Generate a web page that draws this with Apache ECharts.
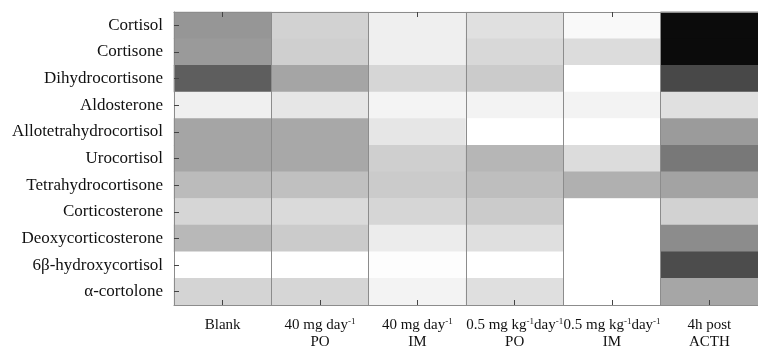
<!DOCTYPE html>
<html>
<head>
<meta charset="utf-8">
<script src="https://cdn.jsdelivr.net/npm/echarts@6/dist/echarts.min.js"></script>
<style>html,body{margin:0;padding:0;background:#fff;}#c{width:758px;height:351px;}</style>
</head>
<body>
<div id="c"></div>
<script>
// Categories
var treatments = ['Blank', '40 mg day^-1\nPO', '40 mg day^-1\nIM', '0.5 mg kg^-1day^-1\nPO', '0.5 mg kg^-1day^-1\nIM', '4h post\nACTH'];
var steroids = ['Cortisol', 'Cortisone', 'Dihydrocortisone', 'Aldosterone', 'Allotetrahydrocortisol', 'Urocortisol', 'Tetrahydrocortisone', 'Corticosterone', 'Deoxycorticosterone', '6β-hydroxycortisol', 'α-cortolone'];

// Grey level of each cell (0 = white, 255 = black), one array per treatment, rows in steroid order
var blank    = [105, 101, 161, 15, 90, 90, 68, 41, 71, 0, 43];
var po40     = [45, 48, 90, 25, 87, 87, 63, 37, 52, 0, 41];
var im40     = [16, 16, 41, 11, 25, 48, 52, 41, 19, 2, 12];
var po05     = [31, 39, 52, 12, 0, 73, 65, 52, 32, 0, 32];
var im05     = [6, 35, 0, 12, 0, 35, 79, 0, 0, 0, 0];
var acth     = [244, 244, 183, 31, 100, 135, 92, 45, 115, 179, 89];
var columns = [blank, po40, im40, po05, im05, acth];

var data = [];
columns.forEach(function (col, ci) {
  col.forEach(function (v, ri) { data.push([ci, ri, v]); });
});

function fmtX(s) {
  return s.split('\n').map(function (line) {
    var parts = line.split('^-1');
    var out = '';
    parts.forEach(function (p, i) {
      if (p) out += '{n|' + p + '}';
      if (i < parts.length - 1) out += '{s|-1}';
    });
    return out;
  }).join('\n');
}

var frame = '#8c8c8c';
var tickC = '#444';
var chart = echarts.init(document.getElementById('c'), null, {renderer: 'canvas'});
chart.setOption({
  animation: false,
  backgroundColor: '#fff',
  grid: {left: 174, top: 12, width: 594, height: 293},
  visualMap: {show: false, min: 0, max: 255, dimension: 2, inRange: {color: ['#ffffff', '#000000']}},
  xAxis: [{
    type: 'category', data: treatments, position: 'bottom', z: 10,
    axisLine: {show: true, lineStyle: {color: frame, width: 1}},
    axisTick: {show: true, inside: true, length: 5, alignWithLabel: true, lineStyle: {color: tickC}},
    splitLine: {show: true, lineStyle: {color: frame, width: 1}},
    axisLabel: {
      margin: 12, interval: 0, color: '#111', lineHeight: 17,
      formatter: fmtX,
      rich: {
        n: {fontFamily: 'Liberation Serif', fontSize: 15, color: '#111', lineHeight: 17},
        s: {fontFamily: 'Liberation Serif', fontSize: 9, color: '#111', verticalAlign: 'top', lineHeight: 17, padding: [0, 0, 8, 0]}
      }
    }
  }, {
    type: 'category', data: treatments, position: 'top', z: 10,
    axisLine: {show: true, lineStyle: {color: frame, width: 1}},
    axisTick: {show: true, inside: true, length: 5, alignWithLabel: true, lineStyle: {color: tickC}},
    axisLabel: {show: false},
    splitLine: {show: false}
  }],
  yAxis: {
    type: 'category', data: steroids, inverse: true, z: 10,
    axisLine: {show: true, lineStyle: {color: frame, width: 1}},
    axisTick: {show: true, inside: true, length: 5, alignWithLabel: true, lineStyle: {color: tickC}},
    splitLine: {show: false},
    axisLabel: {margin: 11, fontFamily: 'Liberation Serif', fontSize: 17, color: '#111'}
  },
  series: [{
    type: 'heatmap', data: data, xAxisIndex: 0, yAxisIndex: 0, z: 1,
    itemStyle: {borderWidth: 0},
    emphasis: {disabled: true}
  }]
});
</script>
</body>
</html>
